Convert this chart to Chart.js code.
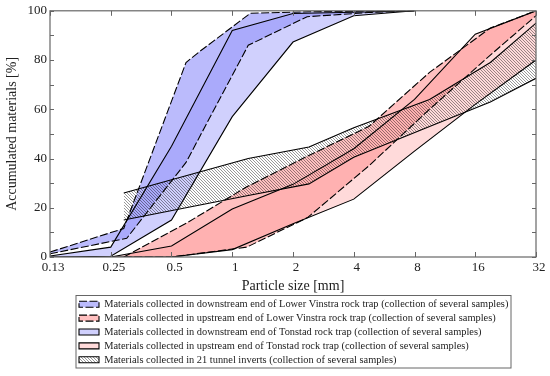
<!DOCTYPE html>
<html>
<head>
<meta charset="utf-8">
<script src="https://cdn.jsdelivr.net/npm/chart.js@4/dist/chart.umd.min.js"></script>
<style>
  body { margin: 0; background: #fff; }
</style>
</head>
<body>
<canvas id="chart" width="550" height="376"></canvas>
<script>
// x tick positions (mm) and their printed labels
const xTicks = [0.125, 0.25, 0.5, 1, 2, 4, 8, 16, 32]
const xTickLabels = ['0.13', '0.25', '0.5', '1', '2', '4', '8', '16', '32']

const seriesNames = [
    'Materials collected in downstream end of Lower Vinstra rock trap (collection of several samples)',
    'Materials collected in upstream end of Lower Vinstra rock trap (collection of several samples)',
    'Materials collected in downstream end of Tonstad rock trap (collection of several samples)',
    'Materials collected in upstream end of Tonstad rock trap (collection of several samples)',
    'Materials collected in 21 tunnel inverts (collection of several samples)'
]

// Lower Vinstra, downstream end (envelope)
const vinstraDownTopX = [0.125, 0.29, 0.59, 0.69, 1.23, 2.4, 8]
const vinstraDownTopY = [2, 11.6, 79, 83.5, 99, 99.6, 100]
const vinstraDownBotX = [0.125, 0.3, 0.59, 1.2, 2.35, 4.75, 8]
const vinstraDownBotY = [1.3, 7.6, 38.4, 86, 97.6, 99.3, 100]

// Lower Vinstra, upstream end
const vinstraUpTopX = [0.29, 0.6, 1.18, 2.36, 4.75, 9.5, 19, 32]
const vinstraUpTopY = [0, 14, 28.5, 41, 53, 75, 93, 100]
const vinstraUpBotX = [0.29, 0.5, 1.18, 2.36, 4.75, 9.5, 19, 32]
const vinstraUpBotY = [0, 0, 4, 16, 37, 60, 82, 98]

// Tonstad, downstream end
const tonstadDownX = [0.125, 0.25, 0.5, 1, 2, 4, 8]
const tonstadDownTopY = [0.4, 4, 45, 92, 98.9, 99.4, 100]
const tonstadDownBotY = [0, 0.3, 15, 57, 87.3, 98, 100]

// Tonstad, upstream end
const tonstadUpX = [0.25, 0.5, 1, 2, 4, 8, 16, 32]
const tonstadUpTopY = [0, 4.5, 19.5, 29.5, 44, 64, 90.5, 100]
const tonstadUpBotY = [0, 0, 3, 13.5, 23.5, 43, 62, 80]

// 21 tunnel inverts
const tunnelX = [0.29, 1.2, 2.4, 4, 9.5, 19, 32]
const tunnelTopY = [26, 40, 44.7, 52.5, 64, 79, 95]
const tunnelBotY = [15, 25, 29.7, 40.5, 53, 63, 72.6]


const serif = 'Liberation Serif'
const lineColor = '#000'
const dash = [8, 2.5]

function points(xs, ys) {
    return xs.map((x, i) => ({ x: x, y: ys[i] }))
}

function hatchPattern() {
    const c = document.createElement('canvas')
    c.width = 3
    c.height = 3
    const g = c.getContext('2d')
    g.strokeStyle = 'rgba(0,0,0,0.5)'
    g.lineWidth = 0.8
    g.beginPath()
    g.moveTo(-1, -1); g.lineTo(4, 4)
    g.moveTo(2, -1); g.lineTo(4, 1)
    g.moveTo(-1, 2); g.lineTo(1, 4)
    g.stroke()
    return g.createPattern(c, 'repeat')
}

function band(name, topData, botData, fill, dashed, order) {
    const common = {
        borderColor: lineColor,
        borderWidth: 1.1,
        borderDash: dashed ? dash : [],
        pointRadius: 0,
        tension: 0,
        order: order
    }
    return [
        Object.assign({ label: name, data: topData, backgroundColor: fill, fill: '+1' }, common),
        Object.assign({ label: name, data: botData, backgroundColor: fill, fill: false }, common)
    ]
}

const datasets = [].concat(
    band(seriesNames[0], points(vinstraDownTopX, vinstraDownTopY), points(vinstraDownBotX, vinstraDownBotY), 'rgba(150,150,250,0.65)', true, 0),
    band(seriesNames[1], points(vinstraUpTopX, vinstraUpTopY), points(vinstraUpBotX, vinstraUpBotY), 'rgba(255,150,150,0.6)', true, 0),
    band(seriesNames[2], points(tonstadDownX, tonstadDownTopY), points(tonstadDownX, tonstadDownBotY), 'rgba(150,150,250,0.45)', false, 0),
    band(seriesNames[3], points(tonstadUpX, tonstadUpTopY), points(tonstadUpX, tonstadUpBotY), 'rgba(255,150,150,0.35)', false, 0),
    // hatch is painted over the coloured bands
    band(seriesNames[4], points(tunnelX, tunnelTopY), points(tunnelX, tunnelBotY), hatchPattern(), false, -1)
)

// inward tick marks, plot frame and legend frame
const framePlugin = {
    id: 'frame',
    afterUpdate(chart) {
        const lg = chart.legend
        lg.left = 75.5
        lg.right = 510.5
        lg.width = lg.right - lg.left
    },
    afterDraw(chart) {
        const { ctx, chartArea: a, scales: { x, y } } = chart
        ctx.save()
        ctx.strokeStyle = '#666'
        ctx.lineWidth = 1
        ctx.beginPath()
        x.ticks.forEach(t => {
            const px = Math.round(x.getPixelForValue(t.value)) + 0.5
            ctx.moveTo(px, a.bottom); ctx.lineTo(px, a.bottom - 5)
            ctx.moveTo(px, a.top); ctx.lineTo(px, a.top + 5)
        })
        y.ticks.forEach(t => {
            const py = Math.round(y.getPixelForValue(t.value)) + 0.5
            ctx.moveTo(a.left, py); ctx.lineTo(a.left + 4, py)
            ctx.moveTo(a.right, py); ctx.lineTo(a.right - 4, py)
        })
        ctx.stroke()
        ctx.lineWidth = 1.2
        ctx.strokeRect(a.left, a.top, a.right - a.left, a.bottom - a.top)

        const lg = chart.legend
        ctx.lineWidth = 1
        ctx.strokeRect(lg.left + 0.5, Math.round(lg.top) - 0.5, lg.right - lg.left, seriesNames.length * 13.5 + 5)
        ctx.restore()
    }
}

new Chart('chart', {
    type: 'line',
    data: { datasets: datasets },
    options: {
        responsive: false,
        animation: false,
        devicePixelRatio: 1,
        layout: { padding: { top: 10, right: 14, bottom: 1, left: 0 } },
        plugins: {
            filler: { drawTime: 'beforeDatasetsDraw' },
            legend: {
                position: 'bottom',
                align: 'start',
                labels: {
                    boxWidth: 20,
                    boxHeight: 6,
                    padding: 3.5,
                    color: '#222',
                    font: { family: serif, size: 10.4 },
                    filter: item => item.datasetIndex % 2 === 0,
                    sort: (a, b) => a.datasetIndex - b.datasetIndex
                }
            },
            tooltip: { enabled: false }
        },
        scales: {
            x: {
                type: 'logarithmic',
                min: 0.125,
                max: 32,
                afterBuildTicks: s => { s.ticks = xTicks.map(v => ({ value: v })) },
                afterFit: s => { s.height = 38.5 },
                grid: { display: false, drawTicks: false },
                border: { display: false },
                ticks: {
                    autoSkip: false,
                    maxRotation: 0,
                    padding: 3,
                    labelOffset: 3,
                    color: '#222',
                    font: { family: serif, size: 13 },
                    callback: (v, i) => xTickLabels[i]
                },
                title: {
                    display: true,
                    text: 'Particle size [mm]',
                    color: '#222',
                    font: { family: serif, size: 14 },
                    padding: { top: 0, bottom: 1 }
                }
            },
            y: {
                min: 0,
                max: 100,
                afterFit: s => { s.width = 50 },
                grid: { display: false, drawTicks: false },
                border: { display: false },
                ticks: {
                    stepSize: 10,
                    autoSkip: false,
                    padding: 3,
                    color: '#222',
                    font: { family: serif, size: 13 },
                    callback: v => (v % 20 === 0 ? v : '')
                },
                title: {
                    display: true,
                    text: 'Accumulated materials [%]',
                    color: '#222',
                    font: { family: serif, size: 14 },
                    padding: { top: 4, bottom: 0 }
                }
            }
        }
    },
    plugins: [framePlugin]
})
</script>
</body>
</html>
